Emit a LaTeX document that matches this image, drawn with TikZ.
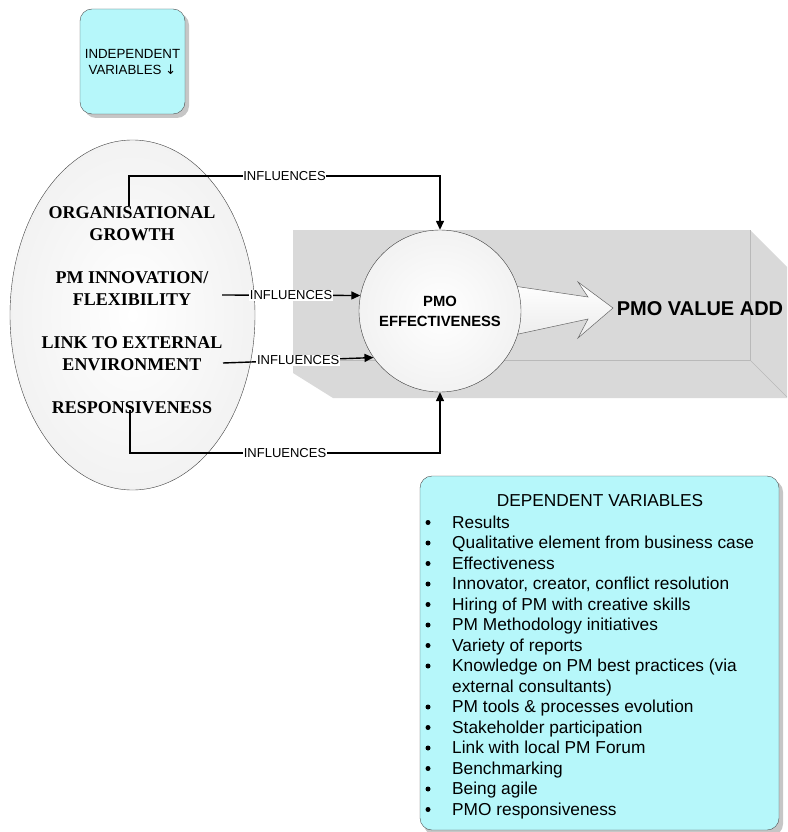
\documentclass[tikz,border=0pt]{standalone}
\usepackage{fontspec}
\setmainfont{Liberation Serif}
\setsansfont{Liberation Sans}
\newfontfamily\arrowfont{DejaVu Sans}
\usetikzlibrary{arrows.meta,shapes.geometric,calc}
\definecolor{cyanbox}{RGB}{182,247,250}
\definecolor{greyblk}{RGB}{217,217,217}
\begin{document}
\begin{tikzpicture}[x=1pt,y=-1pt,
  varfont/.style={font=\fontsize{18}{22}\selectfont\bfseries, align=center, inner sep=0pt},
  lab/.style={fill=white, inner sep=0.8pt, font=\sffamily\fontsize{13}{14}\selectfont},
  conn/.style={line width=1.4pt, -{Triangle[length=9pt,width=8pt]}},
  item/.style={font=\sffamily\fontsize{17.3}{20.5}\selectfont, inner sep=0pt, anchor=base west},
  shadowbox/.style={fill=gray!45, rounded corners=12pt},
  cyanpanel/.style={draw=black!70, fill=cyanbox, rounded corners=12pt, inner sep=0pt}]
\useasboundingbox (0,0) rectangle (787,832);

% independent variables box
\fill[shadowbox] (84,13) rectangle (189,118);
\node[cyanpanel, minimum width=105pt, minimum height=105pt, align=center,
      font=\sffamily\fontsize{13.3}{16}\selectfont] (indep) at (132.5,61.5)
      {INDEPENDENT\\VARIABLES {\arrowfont ↓}};

% grey 3D block
\fill[greyblk] (293,230) -- (750,230) -- (787,267) -- (787,398) -- (333,398) -- (293,373) -- cycle;
\draw[gray!55, line width=0.4pt] (750,230) -- (750,360) -- (330,360);
\draw[gray!55, line width=0.4pt] (750,360) -- (787,397);

% big hollow arrow
\draw[black!60, line width=0.5pt, top color=white, bottom color=gray!15]
  (500,284) -- (588,297) -- (578,282) -- (613,308) -- (578,338) -- (588,319) -- (500,338) -- cycle;

% PMO effectiveness circle
\node[circle, draw=black!75, minimum size=162pt, inner sep=0pt, inner color=white, outer color=gray!10,
      align=center, font=\sffamily\bfseries\fontsize{14.8}{20}\selectfont] (pmo) at (440,311)
      {PMO\\EFFECTIVENESS};

\node[font=\sffamily\bfseries\fontsize{20}{24}\selectfont] (pva) at (700,309) {PMO VALUE ADD};

% ellipse of independent variables
\node[ellipse, draw=black!75, minimum width=245pt, minimum height=350pt, inner sep=0pt,
      inner color=white, outer color=gray!10] (ell) at (132.5,315) {};
\node[varfont] (org) at (132,224) {ORGANISATIONAL\\GROWTH};
\node[varfont] (innov) at (132,289) {PM INNOVATION/\\FLEXIBILITY};
\node[varfont] (link) at (132,354) {LINK TO EXTERNAL\\ENVIRONMENT};
\node[varfont] (resp) at (132,408) {RESPONSIVENESS};

% connectors
\coordinate (k1) at (440,176);
\coordinate (s2) at (222,295);
\coordinate (s3) at (223,363);
\coordinate (k4) at (440,453);
\draw[conn] ([xshift=-3pt,yshift=1pt]org.north) |- node[lab, pos=0.75] {INFLUENCES} (k1) -- (pmo.north);
\draw[conn] (s2) -- node[lab] {INFLUENCES} (pmo.169);
\draw[conn] (s3) -- node[lab] {INFLUENCES} (pmo.215);
\draw[conn] ([xshift=-2pt,yshift=4pt]resp.south) |- node[lab, pos=0.75] {INFLUENCES} (k4) -- (pmo.south);

% dependent variables box
\fill[shadowbox] (424,480) rectangle (783,836);
\node[cyanpanel, minimum width=359pt, minimum height=354pt] (dep) at (599.5,653) {};
\node[font=\sffamily\fontsize{17.3}{20}\selectfont] (dt) at (600,501) {DEPENDENT VARIABLES};
\foreach \t [count=\i from 0] in {Results, Qualitative element from business case, Effectiveness,
   {Innovator, creator, conflict resolution}, Hiring of PM with creative skills,
   PM Methodology initiatives, Variety of reports, Knowledge on PM best practices (via,
   external consultants), PM tools \& processes evolution, Stakeholder participation,
   Link with local PM Forum, Benchmarking, Being agile, PMO responsiveness}
  \node[item] (d\i) at (452, 528+20.5*\i) {\t};
\foreach \i in {0,...,7,9,10,11,12,13,14}
  \fill (428, 522.5+20.5*\i) circle (2.5pt);
\end{tikzpicture}
\end{document}
